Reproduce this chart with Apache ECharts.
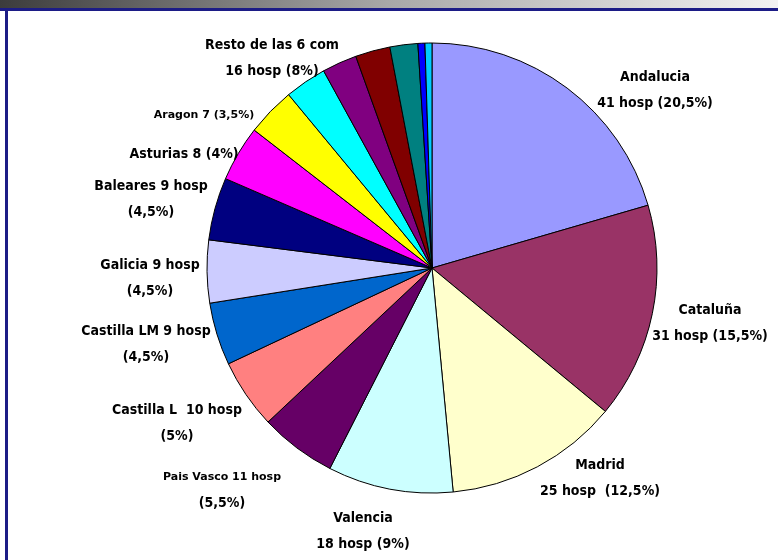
<!DOCTYPE html>
<html>
<head>
<meta charset="utf-8">
<script src="https://cdn.jsdelivr.net/npm/echarts@6/dist/echarts.min.js"></script>
<style>
  html, body { margin: 0; padding: 0; background: #ffffff; }
  #chart { width: 778px; height: 560px; }
</style>
</head>
<body>
<div id="chart"></div>
<script>
// Hospitals per autonomous community
const regions = ['Andalucia', 'Cataluña', 'Madrid', 'Valencia', 'Pais Vasco',
  'Castilla L', 'Castilla LM', 'Galicia', 'Baleares', 'Asturias', 'Aragon'];
const hospitals = [41, 31, 25, 18, 11, 10, 9, 9, 9, 8, 7];

// Remaining six communities, drawn as unlabelled slices
const otherRegions = ['Resto 1', 'Resto 2', 'Resto 3', 'Resto 4', 'Resto 5', 'Resto 6'];
const otherHospitals = [6, 5, 5, 4, 1, 1];
const otherLabel = 'Resto de las 6 com\n16 hosp (8%)';

// Label templates: {n} name, {v} hospitals, {p} share; {s|...} marks small text
const labelFormats = [
  '{n}\n{v} hosp ({p}%)',
  '{n}\n{v} hosp ({p}%)',
  '{n}\n{v} hosp  ({p}%)',
  '{n}\n{v} hosp ({p}%)',
  '{s|{n} {v} hosp}\n({p}%)',
  '{n}  {v} hosp\n({p}%)',
  '{n} {v} hosp\n({p}%)',
  '{n} {v} hosp\n({p}%)',
  '{n} {v} hosp\n({p}%)',
  '{n} {v} ({p}%)',
  '{s|{n} {v} ({p}%)}'
];

const sliceColors = ['#9999FF', '#993366', '#FFFFCC', '#CCFFFF', '#660066', '#FF8080',
  '#0066CC', '#CCCCFF', '#000080', '#FF00FF', '#FFFF00',
  '#00FFFF', '#800080', '#800000', '#008080', '#0000FF', '#00CCFF'];

// Label anchor points (centre of each text block), by slice index
const labelAnchors = {
  0: [655, 90], 1: [710, 323], 2: [600, 478], 3: [363, 531], 4: [222, 490],
  5: [177, 423], 6: [146, 344], 7: [150, 278], 8: [151, 199], 9: [184, 154],
  10: [204, 115], 11: [272, 58]
};

const narrowFont = 'Liberation Sans Narrow, DejaVu Sans Condensed, sans-serif';
const smallRich = { s: { fontSize: 11, fontFamily: 'DejaVu Sans, sans-serif', fontWeight: 'bold', lineHeight: 26 } };

const allValues = hospitals.concat(otherHospitals);
const total = allValues.reduce((a, b) => a + b, 0);
const fmtPct = v => String(Math.round(v / total * 1000) / 10).replace('.', ',');

const data = regions.map((n, i) => ({
  name: n,
  value: hospitals[i],
  label: {
    formatter: labelFormats[i].replace('{n}', n).replace('{v}', hospitals[i]).replace('{p}', fmtPct(hospitals[i])),
    rich: smallRich
  }
})).concat(otherRegions.map((n, j) => ({
  name: n,
  value: otherHospitals[j],
  label: j === 0 ? { formatter: otherLabel } : { show: false }
})));

const chart = echarts.init(document.getElementById('chart'), null, { renderer: 'canvas' });
chart.setOption({
  animation: false,
  backgroundColor: '#ffffff',
  color: sliceColors,
  graphic: [
    { type: 'rect', shape: { x: 0, y: 0, width: 778, height: 8 },
      style: { fill: new echarts.graphic.LinearGradient(0, 0, 1, 0, [
        { offset: 0, color: '#3c3c3c' }, { offset: 0.5, color: '#a8a8a8' }, { offset: 1, color: '#f2f2f2' }]) },
      silent: true },
    { type: 'rect', shape: { x: 0, y: 8, width: 778, height: 3 }, style: { fill: '#1c1c86' }, silent: true },
    { type: 'rect', shape: { x: 5, y: 8, width: 3, height: 552 }, style: { fill: '#1c1c86' }, silent: true }
  ],
  series: [{
    type: 'pie',
    center: [432, 268],
    radius: 225,
    startAngle: 90,
    clockwise: true,
    avoidLabelOverlap: false,
    label: {
      show: true,
      position: 'outside',
      color: '#000000',
      fontWeight: 'bold',
      fontSize: 14,
      lineHeight: 26,
      fontFamily: narrowFont,
      align: 'center'
    },
    labelLine: { show: false },
    labelLayout: function (params) {
      const p = labelAnchors[params.dataIndex];
      if (!p) return {};
      return { x: p[0], y: p[1], align: 'center', verticalAlign: 'middle' };
    },
    itemStyle: { borderColor: '#000000', borderWidth: 1 },
    emphasis: { disabled: true },
    data: data
  }]
});
</script>
</body>
</html>
